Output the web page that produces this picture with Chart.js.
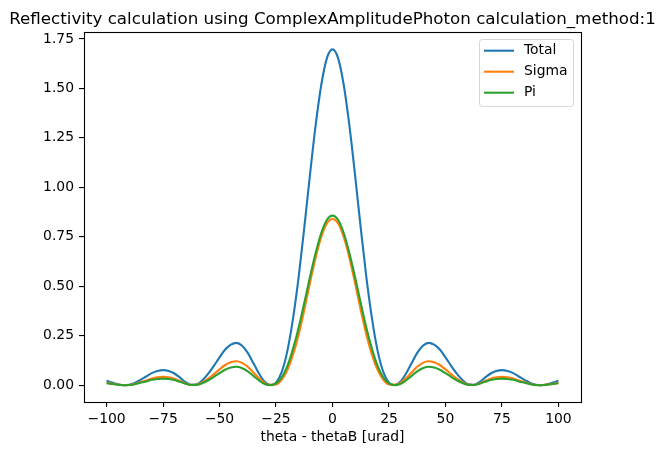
<!DOCTYPE html>
<html>
<head>
<meta charset="utf-8">
<script src="https://cdn.jsdelivr.net/npm/chart.js@4.4.1/dist/chart.umd.min.js"></script>
<style>
  html, body { margin: 0; padding: 0; background: #fff; }
  #wrap { width: 663px; height: 455px; position: relative; }
</style>
</head>
<body>
<div id="wrap"><canvas id="chartReflectividad"></canvas></div>
<script>
// =========================================================
// DATOS
// =========================================================
const TITULO = 'Reflectivity calculation using ComplexAmplitudePhoton calculation_method:1';
const ETIQUETA_X = 'theta - thetaB [urad]';

const angulos = [
  -100, -97.5, -95, -92.5, -90, -87.5, -85, -82.5, -80, -77.5,
  -75, -72.5, -70, -67.5, -65, -62.5, -60, -57.5, -55, -52.5,
  -50, -47.5, -45, -42.5, -40, -37.5, -35, -32.5, -30, -27.5,
  -25, -22.5, -20, -17.5, -15, -12.5, -10, -7.5, -5, -2.5,
  0, 2.5, 5, 7.5, 10, 12.5, 15, 17.5, 20, 22.5,
  25, 27.5, 30, 32.5, 35, 37.5, 40, 42.5, 45, 47.5,
  50, 52.5, 55, 57.5, 60, 62.5, 65, 67.5, 70, 72.5,
  75, 77.5, 80, 82.5, 85, 87.5, 90, 92.5, 95, 97.5, 100
];

const total = [
  0.022, 0.013, 0.005, 0.0, 0.002, 0.011, 0.027, 0.044, 0.061, 0.072,
  0.076, 0.072, 0.059, 0.038, 0.015, 0.002, 0.004, 0.026, 0.058, 0.098,
  0.141, 0.18, 0.205, 0.214, 0.199, 0.163, 0.111, 0.058, 0.017, 0.001,
  0.013, 0.066, 0.172, 0.335, 0.545, 0.795, 1.06, 1.31, 1.516, 1.652,
  1.697, 1.652, 1.516, 1.31, 1.06, 0.795, 0.545, 0.335, 0.172, 0.066,
  0.013, 0.001, 0.017, 0.058, 0.111, 0.163, 0.199, 0.214, 0.205, 0.18,
  0.141, 0.098, 0.058, 0.026, 0.004, 0.002, 0.015, 0.038, 0.059, 0.072,
  0.076, 0.072, 0.061, 0.044, 0.027, 0.011, 0.002, 0.0, 0.005, 0.013, 0.022
];

const sigma = [
  0.012, 0.007, 0.003, 0.0, 0.001, 0.006, 0.015, 0.024, 0.034, 0.04,
  0.042, 0.04, 0.033, 0.021, 0.008, 0.001, 0.003, 0.015, 0.033, 0.056,
  0.08, 0.102, 0.116, 0.121, 0.113, 0.093, 0.064, 0.035, 0.012, 0.002,
  0.004, 0.027, 0.076, 0.153, 0.255, 0.38, 0.515, 0.643, 0.748, 0.817,
  0.84, 0.817, 0.748, 0.643, 0.515, 0.38, 0.255, 0.153, 0.076, 0.027,
  0.004, 0.002, 0.012, 0.035, 0.064, 0.093, 0.113, 0.121, 0.116, 0.102,
  0.08, 0.056, 0.033, 0.015, 0.003, 0.001, 0.008, 0.021, 0.033, 0.04,
  0.042, 0.04, 0.034, 0.024, 0.015, 0.006, 0.001, 0.0, 0.003, 0.007, 0.012
];

const pi = [
  0.01, 0.006, 0.002, 0.0, 0.001, 0.005, 0.012, 0.019, 0.027, 0.031,
  0.033, 0.031, 0.026, 0.017, 0.007, 0.001, 0.002, 0.011, 0.025, 0.042,
  0.061, 0.078, 0.089, 0.093, 0.086, 0.07, 0.047, 0.024, 0.006, 0.0,
  0.009, 0.039, 0.096, 0.182, 0.29, 0.415, 0.545, 0.667, 0.768, 0.835,
  0.857, 0.835, 0.768, 0.667, 0.545, 0.415, 0.29, 0.182, 0.096, 0.039,
  0.009, 0.0, 0.006, 0.024, 0.047, 0.07, 0.086, 0.093, 0.089, 0.078,
  0.061, 0.042, 0.025, 0.011, 0.002, 0.001, 0.007, 0.017, 0.026, 0.031,
  0.033, 0.031, 0.027, 0.019, 0.012, 0.005, 0.001, 0.0, 0.002, 0.006, 0.01
];

const ticksX = [-100, -75, -50, -25, 0, 25, 50, 75, 100];
const ticksY = [0, 0.25, 0.5, 0.75, 1.0, 1.25, 1.5, 1.75];

// =========================================================
// ESTILO
// =========================================================
const FUENTE = 'DejaVu Sans';
const puntos = ys => ys.map((y, i) => ({ x: angulos[i], y: y }));
const menos = s => String(s).replace('-', '\u2212');

// fondo blanco, marco, titulo y leyenda al estilo matplotlib
const pluginMarco = {
    id: 'marco',
    beforeDraw(chart) {
        const c = chart.ctx;
        c.save();
        c.fillStyle = '#ffffff';
        c.fillRect(0, 0, chart.width, chart.height);
        c.restore();
    },
    afterDraw(chart) {
        const c = chart.ctx;
        const a = chart.chartArea;
        c.save();
        c.strokeStyle = '#000';
        c.lineWidth = 1.1;
        c.strokeRect(Math.round(a.left) + 0.5, Math.round(a.top) + 0.5,
                     Math.round(a.right - a.left), Math.round(a.bottom - a.top));

        // titulo
        c.fillStyle = '#000';
        c.font = `16.7px "${FUENTE}"`;
        c.textAlign = 'center';
        c.textBaseline = 'alphabetic';
        c.fillText(TITULO, (a.left + a.right) / 2, a.top - 8.3);

        // leyenda
        const bx = 479.5, by = 39.5, bw = 94, bh = 67, r = 3;
        c.beginPath();
        c.moveTo(bx + r, by);
        c.arcTo(bx + bw, by, bx + bw, by + bh, r);
        c.arcTo(bx + bw, by + bh, bx, by + bh, r);
        c.arcTo(bx, by + bh, bx, by, r);
        c.arcTo(bx, by, bx + bw, by, r);
        c.closePath();
        c.fillStyle = 'rgba(255,255,255,0.8)';
        c.fill();
        c.strokeStyle = '#d6d6d6';
        c.lineWidth = 1;
        c.stroke();

        c.font = `13.9px "${FUENTE}"`;
        c.textAlign = 'left';
        c.textBaseline = 'middle';
        chart.data.datasets.forEach((ds, i) => {
            const y = 50.7 + i * 21;
            c.strokeStyle = ds.borderColor;
            c.lineWidth = 2.1;
            c.beginPath();
            c.moveTo(484, y);
            c.lineTo(514, y);
            c.stroke();
            c.fillStyle = '#000';
            c.fillText(ds.label, 524, y);
        });
        c.restore();
    }
};

// =========================================================
// GRAFICO
// =========================================================
const serie = (label, data, color, orden) => ({
    label: label,
    data: puntos(data),
    borderColor: color,
    backgroundColor: color,
    borderWidth: 2.1,
    pointRadius: 0,
    cubicInterpolationMode: 'monotone',
    fill: false,
    order: orden
});

new Chart(document.getElementById('chartReflectividad'), {
    type: 'line',
    data: {
        datasets: [
            serie('Total', total, '#1f77b4', 3),
            serie('Sigma', sigma, '#ff7f0e', 2),
            serie('Pi', pi, '#2ca02c', 1)
        ]
    },
    options: {
        responsive: true,
        maintainAspectRatio: false,
        devicePixelRatio: 1,
        animation: false,
        layout: { padding: { left: 0, top: 32, right: 82, bottom: 0 } },
        plugins: {
            legend: { display: false },
            title: { display: false },
            tooltip: { enabled: false }
        },
        scales: {
            x: {
                type: 'linear',
                min: -110,
                max: 110,
                afterBuildTicks: s => { s.ticks = ticksX.map(v => ({ value: v })); },
                afterFit: s => { s.height = 53; },
                grid: { drawOnChartArea: false, drawTicks: true, tickLength: 5, color: '#000', lineWidth: 1.1 },
                border: { display: false },
                ticks: {
                    padding: 4,
                    color: '#000',
                    maxRotation: 0,
                    font: { family: FUENTE, size: 13.9 },
                    callback: v => menos(v)
                },
                title: {
                    display: true,
                    text: ETIQUETA_X,
                    color: '#000',
                    font: { family: FUENTE, size: 13.9 },
                    padding: { top: 0, bottom: 9 }
                }
            },
            y: {
                type: 'linear',
                min: -0.085,
                max: 1.785,
                afterBuildTicks: s => { s.ticks = ticksY.map(v => ({ value: v })); },
                afterFit: s => { s.width = 84; },
                grid: { drawOnChartArea: false, drawTicks: true, tickLength: 5, color: '#000', lineWidth: 1.1 },
                border: { display: false },
                ticks: {
                    padding: 5,
                    color: '#000',
                    font: { family: FUENTE, size: 13.9 },
                    callback: v => menos(v.toFixed(2))
                }
            }
        }
    },
    plugins: [pluginMarco]
});
</script>
</body>
</html>
